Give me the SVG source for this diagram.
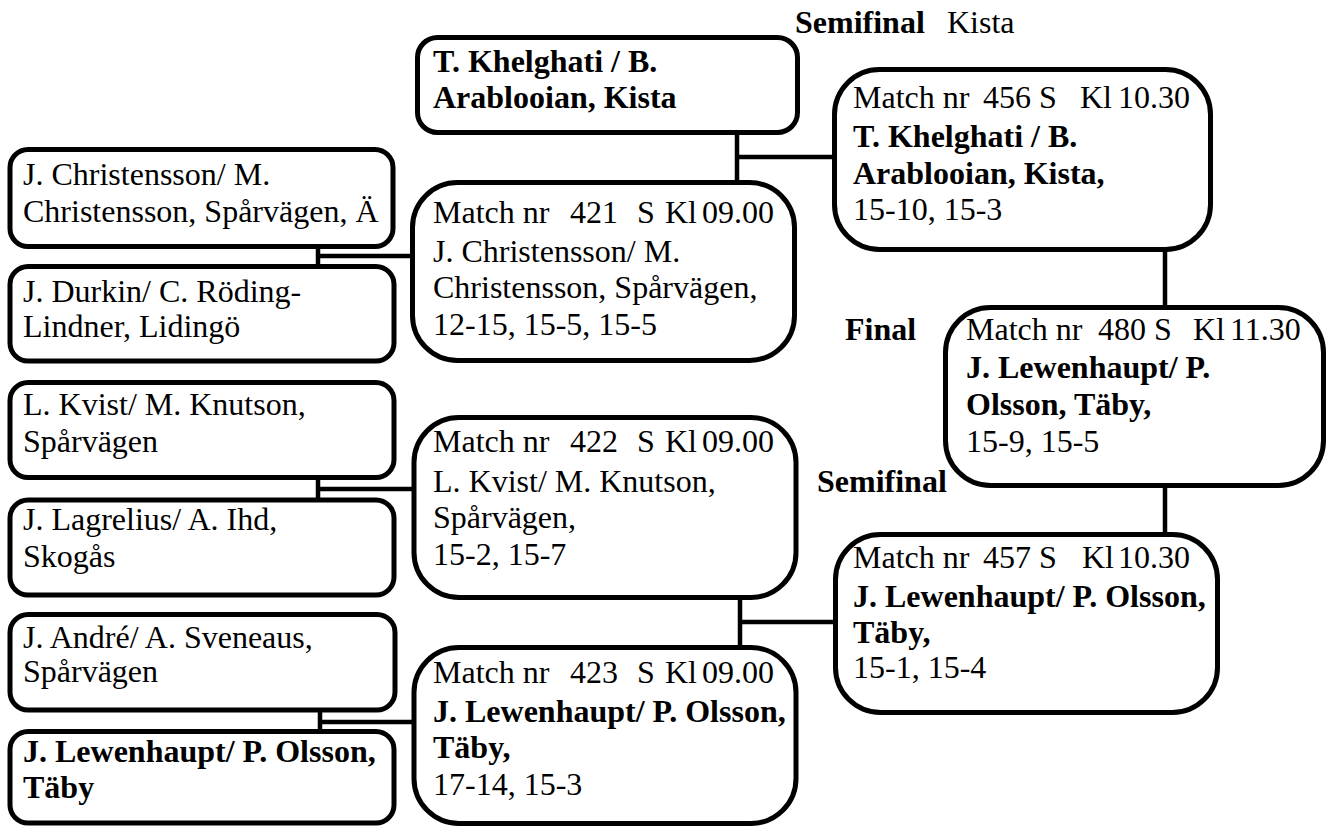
<svg xmlns="http://www.w3.org/2000/svg" width="1328" height="826" viewBox="0 0 1328 826">
<style>
.box{fill:#fff;stroke:#000;stroke-width:5}
.conn{fill:none;stroke:#000;stroke-width:4.5}
text{font-family:"Liberation Serif","Times New Roman",serif;font-size:32px;fill:#000}
.b{font-weight:bold}
</style>
<rect width="1328" height="826" fill="#fff"/>
<g id="connectors">
<path class="conn" d="M318,246 V266 M318,256 H412"/>
<path class="conn" d="M318,478 V500 M318,489 H414"/>
<path class="conn" d="M320,710 V731 M320,722 H414"/>
<path class="conn" d="M737,133 V182 M737,157 H834"/>
<path class="conn" d="M740,598 V647 M740,622 H835"/>
<path class="conn" d="M1165,250 V307"/>
<path class="conn" d="M1165,486 V534"/>
</g>
<g id="labels">
<text x="795" y="33"><tspan class="b">Semifinal</tspan><tspan x="947">Kista</tspan></text>
<text class="b" x="845" y="340">Final</text>
<text class="b" x="817" y="492">Semifinal</text>
</g>
<g id="team-christensson">
<rect class="box" x="10" y="149.5" width="383" height="97" rx="18"/>
<text x="23" y="185">J. Christensson/ M.</text>
<text x="23" y="222">Christensson, Spårvägen, Ä</text>
</g>
<g id="team-durkin">
<rect class="box" x="10" y="266.5" width="384" height="94.5" rx="18"/>
<text x="23" y="302">J. Durkin/ C. Röding-</text>
<text x="23" y="337">Lindner, Lidingö</text>
</g>
<g id="team-kvist">
<rect class="box" x="10" y="382.5" width="384" height="95" rx="18"/>
<text x="23" y="415">L. Kvist/ M. Knutson,</text>
<text x="23" y="452">Spårvägen</text>
</g>
<g id="team-lagrelius">
<rect class="box" x="10" y="500" width="384" height="95" rx="18"/>
<text x="23" y="530">J. Lagrelius/ A. Ihd,</text>
<text x="23" y="567">Skogås</text>
</g>
<g id="team-andre">
<rect class="box" x="10" y="614.5" width="385" height="95.5" rx="18"/>
<text x="23" y="648">J. André/ A. Sveneaus,</text>
<text x="23" y="682">Spårvägen</text>
</g>
<g id="team-lewenhaupt">
<rect class="box" x="10" y="731.5" width="384" height="91.5" rx="18"/>
<text class="b" x="23" y="762">J. Lewenhaupt/ P. Olsson,</text>
<text class="b" x="23" y="798">Täby</text>
</g>
<g id="team-khelghati">
<rect class="box" x="417.5" y="37.5" width="380" height="95" rx="20"/>
<text class="b" x="433" y="72">T. Khelghati / B.</text>
<text class="b" x="433" y="108">Arablooian, Kista</text>
</g>
<g id="match-421">
<rect class="box" x="412.5" y="182.5" width="382" height="178" rx="45"/>
<text y="223"><tspan x="433">Match nr</tspan><tspan x="570">421</tspan><tspan x="637">S</tspan><tspan x="665">Kl</tspan><tspan x="702">09.00</tspan></text>
<text x="433" y="262">J. Christensson/ M.</text>
<text x="433" y="298">Christensson, Spårvägen,</text>
<text x="433" y="335">12-15, 15-5, 15-5</text>
</g>
<g id="match-422">
<rect class="box" x="414" y="417.5" width="382" height="180" rx="45"/>
<text y="452"><tspan x="433">Match nr</tspan><tspan x="570">422</tspan><tspan x="637">S</tspan><tspan x="665">Kl</tspan><tspan x="702">09.00</tspan></text>
<text x="433" y="492">L. Kvist/ M. Knutson,</text>
<text x="433" y="528">Spårvägen,</text>
<text x="433" y="565">15-2, 15-7</text>
</g>
<g id="match-423">
<rect class="box" x="414" y="647.5" width="382" height="176" rx="45"/>
<text y="683"><tspan x="433">Match nr</tspan><tspan x="570">423</tspan><tspan x="637">S</tspan><tspan x="665">Kl</tspan><tspan x="702">09.00</tspan></text>
<text class="b" x="433" y="722">J. Lewenhaupt/ P. Olsson,</text>
<text class="b" x="433" y="758">Täby,</text>
<text x="433" y="795">17-14, 15-3</text>
</g>
<g id="match-456">
<rect class="box" x="834.5" y="69.5" width="376" height="180" rx="45"/>
<text y="108"><tspan x="853">Match nr</tspan><tspan x="983">456 S</tspan><tspan x="1080">Kl</tspan><tspan x="1118">10.30</tspan></text>
<text class="b" x="853" y="147">T. Khelghati / B.</text>
<text class="b" x="853" y="184">Arablooian, Kista,</text>
<text x="853" y="220">15-10, 15-3</text>
</g>
<g id="match-480">
<rect class="box" x="945.5" y="307.5" width="378" height="178" rx="45"/>
<text y="340"><tspan x="966">Match nr</tspan><tspan x="1098">480 S</tspan><tspan x="1193">Kl</tspan><tspan x="1230">11.30</tspan></text>
<text class="b" x="966" y="378">J. Lewenhaupt/ P.</text>
<text class="b" x="966" y="415">Olsson, Täby,</text>
<text x="966" y="452">15-9, 15-5</text>
</g>
<g id="match-457">
<rect class="box" x="835.5" y="534.5" width="382" height="178" rx="45"/>
<text y="568"><tspan x="853">Match nr</tspan><tspan x="983">457 S</tspan><tspan x="1082">Kl</tspan><tspan x="1118">10.30</tspan></text>
<text class="b" x="853" y="607">J. Lewenhaupt/ P. Olsson,</text>
<text class="b" x="853" y="643">Täby,</text>
<text x="853" y="678">15-1, 15-4</text>
</g>
</svg>
